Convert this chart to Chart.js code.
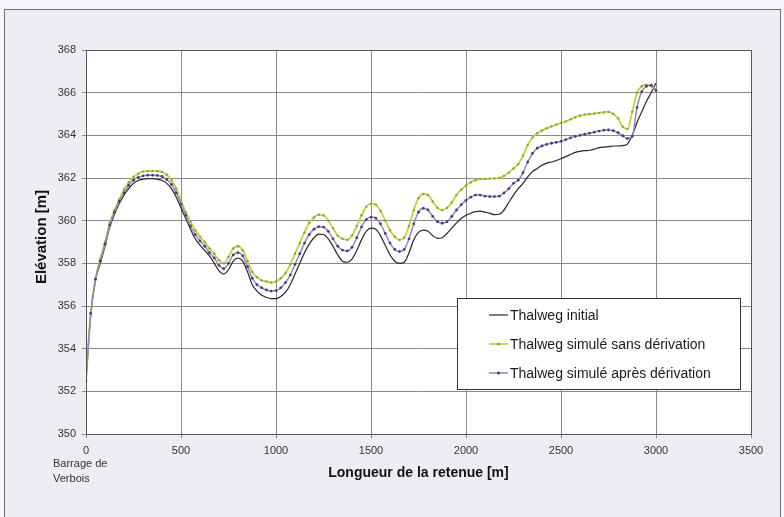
<!DOCTYPE html>
<html>
<head>
<meta charset="utf-8">
<script src="https://cdn.jsdelivr.net/npm/chart.js@4.4.1/dist/chart.umd.min.js"></script>
<style>
  html, body { margin: 0; padding: 0; background: #f7f7f9; }
  #wrap { position: relative; width: 784px; height: 517px; }
  canvas { display: block; }
</style>
</head>
<body>
<div id="wrap"><canvas id="c" width="784" height="517"></canvas></div>
<script>
// Distance along the reservoir [m]
const distances = [0,25,50,75,100,125,150,175,200,225,250,275,300,325,350,375,400,425,450,475,
  500,525,550,575,600,625,650,675,700,725,750,775,800,825,850,875,900,925,950,975,
  1000,1025,1050,1075,1100,1125,1150,1175,1200,1225,1250,1275,1300,1325,1350,1375,1400,1425,1450,1475,
  1500,1525,1550,1575,1600,1625,1650,1675,1700,1725,1750,1775,1800,1825,1850,1875,1900,1925,1950,1975,
  2000,2025,2050,2075,2100,2125,2150,2175,2200,2225,2250,2275,2300,2325,2350,2375,2400,2425,2450,2475,
  2500,2525,2550,2575,2600,2625,2650,2675,2700,2725,2750,2775,2800,2825,2850,2875,2900,2925,2950,2975,3000];

// Thalweg initial [m]
const thalwegInitial = [352.5,355.6,357.2,358.0,358.8,359.7,360.3,360.8,361.2,361.5,361.75,361.88,361.94,361.97,361.97,361.94,361.88,361.75,361.5,361.1,
  360.6,360.1,359.6,359.15,358.85,358.6,358.35,358.0,357.65,357.5,357.7,358.1,358.25,358.1,357.6,357.0,356.7,356.5,356.4,356.35,
  356.35,356.45,356.65,357.0,357.5,358.0,358.5,358.9,359.2,359.37,359.35,359.15,358.8,358.4,358.1,358.05,358.2,358.6,359.1,359.5,
  359.65,359.6,359.3,358.85,358.4,358.1,358.0,358.05,358.5,359.1,359.45,359.56,359.5,359.3,359.17,359.2,359.4,359.65,359.9,360.1,
  360.25,360.35,360.42,360.45,360.4,360.35,360.28,360.3,360.5,360.85,361.2,361.5,361.75,362.05,362.3,362.45,362.6,362.7,362.75,362.82,
  362.9,363.0,363.1,363.2,363.25,363.28,363.3,363.35,363.42,363.45,363.47,363.5,363.5,363.52,363.6,364.0,364.6,365.1,365.6,366.0,366.45];

// Thalweg simulé sans dérivation [m]
const thalwegSans = [352.5,355.7,357.3,358.2,359.0,359.9,360.5,361.0,361.45,361.8,362.05,362.2,362.3,362.33,362.33,362.32,362.28,362.15,361.9,361.5,
  360.95,360.4,359.95,359.55,359.25,359.0,358.7,358.45,358.15,358.0,358.3,358.7,358.8,358.6,358.1,357.6,357.35,357.2,357.15,357.1,
  357.15,357.3,357.55,357.95,358.45,358.95,359.45,359.9,360.15,360.28,360.25,360.0,359.65,359.3,359.15,359.1,359.3,359.75,360.25,360.65,
  360.8,360.75,360.45,360.0,359.55,359.25,359.1,359.2,359.75,360.5,361.05,361.25,361.2,360.9,360.6,360.5,360.6,360.85,361.2,361.45,
  361.65,361.8,361.9,361.95,361.95,361.97,361.98,362.0,362.1,362.25,362.45,362.65,363.05,363.55,363.9,364.1,364.23,364.33,364.42,364.5,
  364.58,364.65,364.75,364.85,364.92,364.97,365.0,365.02,365.05,365.08,365.1,365.0,364.8,364.4,364.3,365.1,366.0,366.3,366.36,366.3,366.15];

// Thalweg simulé après dérivation [m]
const thalwegApres = [352.5,355.65,357.25,358.1,358.9,359.8,360.4,360.9,361.3,361.65,361.9,362.03,362.1,362.13,362.13,362.12,362.07,361.93,361.7,361.3,
  360.78,360.25,359.75,359.35,359.05,358.8,358.5,358.25,357.9,357.75,358.0,358.4,358.5,358.35,357.85,357.3,357.0,356.85,356.75,356.7,
  356.72,356.85,357.1,357.45,357.95,358.45,358.95,359.35,359.6,359.72,359.7,359.5,359.15,358.8,358.62,358.58,358.75,359.2,359.7,360.05,
  360.17,360.12,359.85,359.4,358.95,358.65,358.55,358.65,359.15,359.85,360.4,360.58,360.5,360.2,359.95,359.88,359.95,360.2,360.5,360.75,
  360.95,361.1,361.2,361.2,361.15,361.13,361.13,361.15,361.3,361.5,361.75,361.9,362.25,362.75,363.15,363.4,363.5,363.58,363.63,363.67,
  363.72,363.8,363.88,363.95,364.0,364.05,364.1,364.15,364.2,364.24,364.25,364.22,364.12,363.98,363.85,363.95,365.3,366.05,366.3,366.35,366.1];

const seriesNames = ["Thalweg initial", "Thalweg simulé sans dérivation", "Thalweg simulé après dérivation"];
const xTicks = [0,500,1000,1500,2000,2500,3000,3500];
const yTicks = [350,352,354,356,358,360,362,364,366,368];
const xTitle = "Longueur de la retenue [m]";
const yTitle = "Elévation [m]";
const originNote = ["Barrage de", "Verbois"];

const FONT = "'Liberation Sans', Arial, sans-serif";
const styles = [
  { color: "#262626", width: 1.2, radius: 0, pointColor: "#262626" },
  { color: "#c6d22e", width: 1.8, radius: 1.2, pointColor: "#8f9a55" },
  { color: "#9a82c4", width: 1.5, radius: 1.4, pointColor: "#4b3a6e" }
];
const values = [thalwegInitial, thalwegSans, thalwegApres];

const datasets = values.map((arr, i) => ({
  label: seriesNames[i],
  data: distances.map((d, k) => ({ x: d, y: arr[k] })),
  borderColor: styles[i].color,
  backgroundColor: styles[i].pointColor,
  borderWidth: styles[i].width,
  pointRadius: styles[i].radius,
  pointBorderWidth: 0,
  pointBackgroundColor: styles[i].pointColor,
  pointHoverRadius: 0,
  cubicInterpolationMode: "monotone",
  fill: false,
  order: 2 - i
}));

const framePlugin = {
  id: "frame",
  beforeDraw(chart) {
    const ctx = chart.ctx;
    ctx.save();
    ctx.fillStyle = "#f7f7f9";
    ctx.fillRect(0, 0, 784, 517);
    ctx.fillStyle = "#eceef4";
    ctx.fillRect(4, 9, 776, 520);
    ctx.strokeStyle = "#6e6e6e";
    ctx.lineWidth = 1;
    ctx.strokeRect(4.5, 9.5, 776, 520);
    const a = chart.chartArea;
    ctx.fillStyle = "#ffffff";
    ctx.fillRect(a.left, a.top, a.right - a.left, a.bottom - a.top);
    ctx.restore();
  },
  afterDraw(chart) {
    const ctx = chart.ctx;
    const a = chart.chartArea;
    const xs = chart.scales.x;
    ctx.save();
    // plot border
    ctx.strokeStyle = "#555";
    ctx.lineWidth = 1;
    ctx.strokeRect(Math.round(a.left) + 0.5, Math.round(a.top) + 0.5, Math.round(a.right - a.left), Math.round(a.bottom - a.top));
    // axis titles
    ctx.fillStyle = "#111";
    ctx.font = "bold 14px " + FONT;
    ctx.textAlign = "center";
    ctx.textBaseline = "middle";
    ctx.fillText(xTitle, (a.left + a.right) / 2, 473);
    ctx.save();
    ctx.font = "bold 15px " + FONT;
    ctx.translate(42, 237);
    ctx.rotate(-Math.PI / 2);
    ctx.fillText(yTitle, 0, 0);
    ctx.restore();
    // origin note
    ctx.font = "11px " + FONT;
    ctx.fillStyle = "#333";
    ctx.textAlign = "left";
    const x0 = xs.getPixelForValue(0) - 33;
    ctx.fillText(originNote[0], x0, 464);
    ctx.fillText(originNote[1], x0, 479);
    // legend
    const lx = 457, ly = 298, lw = 283, lh = 91;
    ctx.fillStyle = "#ffffff";
    ctx.fillRect(lx, ly, lw, lh);
    ctx.strokeStyle = "#333";
    ctx.strokeRect(lx + 0.5, ly + 0.5, lw, lh);
    const rows = [315, 344, 373];
    ctx.font = "14px " + FONT;
    ctx.textBaseline = "middle";
    rows.forEach((ry, i) => {
      ctx.strokeStyle = styles[i].color;
      ctx.lineWidth = styles[i].width;
      ctx.beginPath();
      ctx.moveTo(489, ry);
      ctx.lineTo(508, ry);
      ctx.stroke();
      if (styles[i].radius > 0) {
        ctx.fillStyle = styles[i].pointColor;
        ctx.beginPath();
        ctx.arc(498.5, ry, 1.6, 0, Math.PI * 2);
        ctx.fill();
      }
      ctx.fillStyle = "#1a1a1a";
      ctx.fillText(seriesNames[i], 510, ry + 1);
    });
    ctx.restore();
  }
};

new Chart(document.getElementById("c"), {
  type: "line",
  data: { datasets },
  options: {
    responsive: false,
    animation: false,
    events: [],
    layout: { padding: { left: 0, top: 50, right: 33, bottom: 63 } },
    plugins: { legend: { display: false }, tooltip: { enabled: false } },
    scales: {
      x: {
        type: "linear",
        min: 0, max: 3500,
        afterBuildTicks(s) { s.ticks = xTicks.map(v => ({ value: v })); },
        afterFit(s) { s.height = 20; },
        grid: { color: "#8a8a8a", lineWidth: 1, tickLength: 4, drawTicks: true },
        border: { display: false },
        ticks: { color: "#333", font: { family: FONT, size: 11 }, padding: 6, maxRotation: 0, autoSkip: false,
                 callback: v => String(v) }
      },
      y: {
        min: 350, max: 368,
        afterBuildTicks(s) { s.ticks = yTicks.map(v => ({ value: v })); },
        afterFit(s) { s.width = 86; },
        grid: { color: "#8a8a8a", lineWidth: 1, tickLength: 4 },
        border: { display: false },
        ticks: { color: "#333", font: { family: FONT, size: 11 }, padding: 6, callback: v => String(v) }
      }
    }
  },
  plugins: [framePlugin]
});
</script>
</body>
</html>
